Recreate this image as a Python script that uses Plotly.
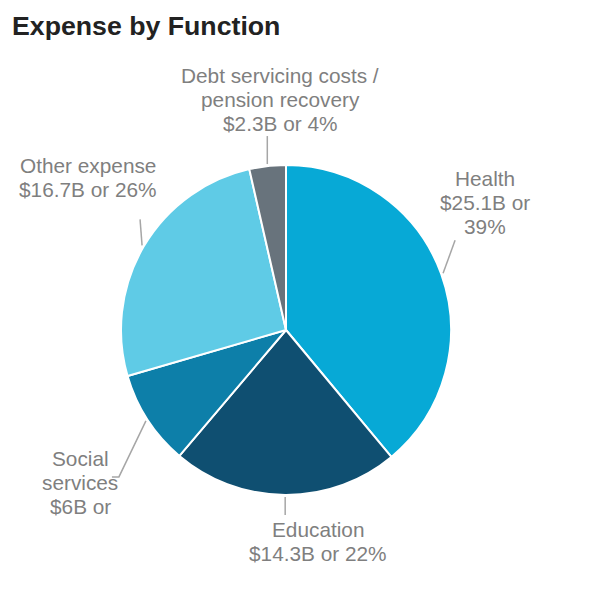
import math
import plotly.graph_objects as go

# Expense by function, billions of dollars
categories = ["Health", "Education", "Social services", "Other expense",
              "Debt servicing costs / pension recovery"]
values = [25.1, 14.3, 6.0, 16.7, 2.3]
label_lines = [
    ["Health", "$25.1B or", "39%"],
    ["Education", "$14.3B or 22%"],
    ["Social", "services", "$6B or"],
    ["Other expense", "$16.7B or 26%"],
    ["Debt servicing costs /", "pension recovery", "$2.3B or 4%"],
]
colors = ["#07a9d6", "#0f4f71", "#0d7fa9", "#5fcbe6", "#68737c"]

W, H = 590, 614
CX, CY, R = 286, 330, 165  # pie centre and radius in pixels
LINE_GAP = 24.3            # label line spacing in pixels

# label placement: centre x and centre y of the first text line, in pixels
label_pos = [
    (485, 178),
    (318, 529),
    (80, 458),
    (88, 165),
    (280, 75),
]
# leader line path offsets from the rim point, in pixels
leader_offsets = [
    [(12, -33)],
    [(0, 18)],
    [(-27, 56), (-34, 56)],
    [(-2, -26)],
    [(0, -28)],
]

FONT = "Liberation Sans, Arial, sans-serif"


def px(x, y):
    return x / W, 1 - y / H


fig = go.Figure(go.Pie(
    labels=categories,
    values=values,
    sort=False,
    direction="clockwise",
    rotation=0,
    marker=dict(colors=colors, line=dict(color="white", width=2)),
    textinfo="none",
    hoverinfo="label+value+percent",
    showlegend=False,
    domain=dict(x=[(CX - R) / W, (CX + R) / W],
                y=[1 - (CY + R) / H, 1 - (CY - R) / H]),
))

total = sum(values)
cum = 0.0
shapes = []
annotations = []
for i, v in enumerate(values):
    mid = (cum + v / 2) / total * 2 * math.pi
    cum += v
    sx = CX + (R + 2) * math.sin(mid)
    sy = CY - (R + 2) * math.cos(mid)
    pts = [(sx, sy)] + [(sx + dx, sy + dy) for dx, dy in leader_offsets[i]]
    path = "M " + " L ".join(f"{px(x, y)[0]:.5f},{px(x, y)[1]:.5f}" for x, y in pts)
    shapes.append(dict(type="path", path=path, xref="paper", yref="paper",
                       line=dict(color="#a6a6a6", width=1.5)))
    lx, ly = label_pos[i]
    for k, line in enumerate(label_lines[i]):
        ax_, ay_ = px(lx, ly + k * LINE_GAP)
        annotations.append(dict(
            text=line, x=ax_, y=ay_, xref="paper", yref="paper",
            xanchor="center", yanchor="middle", showarrow=False,
            font=dict(family=FONT, size=20.8, color="#7f7f7f"),
        ))

fig.update_layout(
    width=W, height=H,
    margin=dict(l=0, r=0, t=0, b=0),
    paper_bgcolor="white",
    plot_bgcolor="white",
    title=dict(text="<b>Expense by Function</b>", x=12 / W, xanchor="left",
               y=1 - 26 / H, yanchor="middle",
               font=dict(family=FONT, size=26.7, color="#222222")),
    shapes=shapes,
    annotations=annotations,
)

fig.write_html("out.html")
